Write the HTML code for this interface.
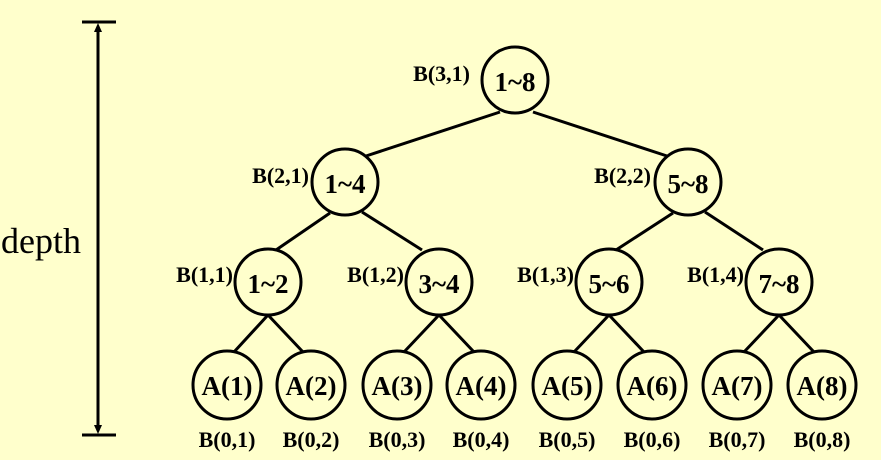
<!DOCTYPE html>
<html><head><style>
html,body{margin:0;padding:0;background:#FFFFCC;}
svg{display:block;}
text{font-family:"Liberation Serif",serif;font-weight:bold;fill:#000;}
</style></head><body>
<svg width="881" height="460" viewBox="0 0 881 460">
<rect width="881" height="460" fill="#FFFFCC"/>
<g stroke="#000" stroke-width="3">
<line x1="82" y1="22" x2="116" y2="22"/>
<line x1="82" y1="435" x2="116" y2="435"/>
<line x1="98" y1="28" x2="98" y2="429"/>
</g>
<polygon points="98,23 94,32 102,32" fill="#000"/>
<polygon points="98,434 94,425 102,425" fill="#000"/>
<text x="1" y="253" font-size="36" style="font-weight:normal">depth</text>
<g stroke="#000" stroke-width="3">
<line x1="500" y1="112" x2="366" y2="156"/>
<line x1="533" y1="112" x2="667" y2="156"/>
<line x1="330" y1="213" x2="276" y2="250"/>
<line x1="362" y1="212" x2="422" y2="250"/>
<line x1="673" y1="213" x2="616" y2="250"/>
<line x1="705" y1="212" x2="763" y2="250"/>
<line x1="268" y1="315" x2="234" y2="352"/>
<line x1="268" y1="315" x2="303" y2="352"/>
<line x1="439" y1="315" x2="404" y2="352"/>
<line x1="439" y1="315" x2="474" y2="352"/>
<line x1="609" y1="315" x2="574" y2="352"/>
<line x1="609" y1="315" x2="644" y2="352"/>
<line x1="779" y1="315" x2="744" y2="352"/>
<line x1="779" y1="315" x2="814" y2="352"/>
</g>
<g fill="#FFFFCC" stroke="#000" stroke-width="3">
<circle cx="515" cy="80" r="33"/>
<circle cx="345" cy="182" r="33"/>
<circle cx="688" cy="182" r="33"/>
<circle cx="268" cy="282" r="33"/>
<circle cx="439" cy="282" r="33"/>
<circle cx="609" cy="282" r="33"/>
<circle cx="779" cy="282" r="33"/>
<circle cx="227" cy="385" r="34"/>
<circle cx="311" cy="385" r="34"/>
<circle cx="397" cy="385" r="34"/>
<circle cx="481" cy="385" r="34"/>
<circle cx="567" cy="385" r="34"/>
<circle cx="652" cy="385" r="34"/>
<circle cx="737" cy="385" r="34"/>
<circle cx="822" cy="385" r="34"/>
</g>
<g font-size="27" text-anchor="middle">
<text x="515" y="91">1~8</text>
<text x="345" y="193">1~4</text>
<text x="688" y="193">5~8</text>
<text x="268" y="293">1~2</text>
<text x="439" y="293">3~4</text>
<text x="609" y="293">5~6</text>
<text x="779" y="293">7~8</text>
<text x="227" y="395">A(1)</text>
<text x="311" y="395">A(2)</text>
<text x="397" y="395">A(3)</text>
<text x="481" y="395">A(4)</text>
<text x="567" y="395">A(5)</text>
<text x="652" y="395">A(6)</text>
<text x="737" y="395">A(7)</text>
<text x="822" y="395">A(8)</text>
</g>
<g font-size="22" text-anchor="end">
<text x="470" y="81">B(3,1)</text>
<text x="309" y="183">B(2,1)</text>
<text x="651" y="183">B(2,2)</text>
<text x="233" y="282">B(1,1)</text>
<text x="404" y="282">B(1,2)</text>
<text x="574" y="282">B(1,3)</text>
<text x="744" y="282">B(1,4)</text>
</g>
<g font-size="22" text-anchor="middle">
<text x="227" y="447">B(0,1)</text>
<text x="311" y="447">B(0,2)</text>
<text x="397" y="447">B(0,3)</text>
<text x="481" y="447">B(0,4)</text>
<text x="567" y="447">B(0,5)</text>
<text x="652" y="447">B(0,6)</text>
<text x="737" y="447">B(0,7)</text>
<text x="822" y="447">B(0,8)</text>
</g>
</svg>
</body></html>
